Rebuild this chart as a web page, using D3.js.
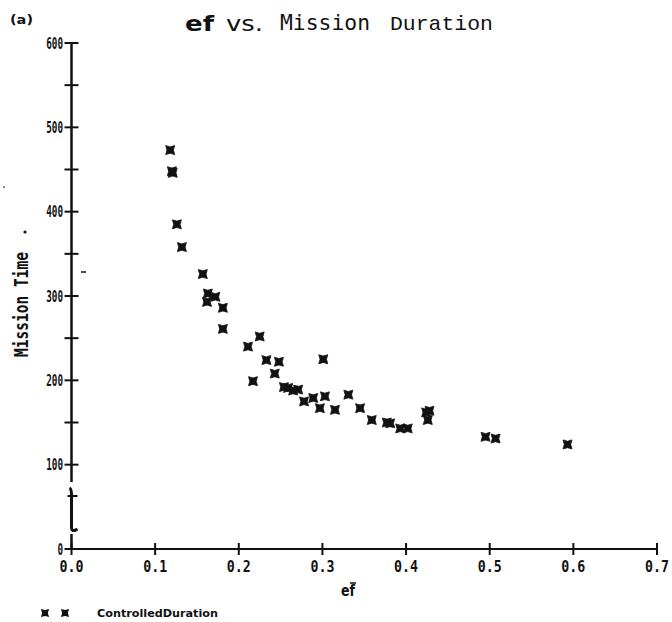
<!DOCTYPE html>
<html><head><meta charset="utf-8">
<script src="https://cdn.jsdelivr.net/npm/d3@7"></script>
<style>
html,body{margin:0;padding:0;background:#fff;}
svg{display:block;}
</style></head>
<body>
<svg id="chart" width="672" height="622"></svg>
<script>
// ---- data ----
const efValues = [0.118,0.120,0.121,0.126,0.132,0.157,0.163,0.172,0.162,0.181,0.181,0.225,0.211,0.233,0.248,0.301,0.217,0.243,0.254,0.259,0.271,0.265,0.278,0.289,0.303,0.297,0.315,0.331,0.345,0.359,0.377,0.381,0.393,0.402,0.424,0.428,0.426,0.495,0.507,0.593];
const missionTimes = [473,448,446,385,358,326,303,299,293,286,261,252,240,224,222,225,199,208,192,191,189,188,175,179,181,167,165,183,167,153,150,149,143,143,162,164,153,133,131,124];
const xTicks = [0,0.1,0.2,0.3,0.4,0.5,0.6,0.7];
const xTickLabels = ["0.0","0.1","0.2","0.3","0.4","0.5","0.6","0.7"];
const yTicks = [0,100,200,300,400,500,600];
const yTickLabels = ["0","100","200","300","400","500","600"];
const yMinorTicks = [150,250,350,450,550];
const titleText = "ef vs. Mission Duration";
const xLabel = "ef";
const yLabel = "Mission Time";
const legendLabel = "ControlledDuration";

const svg = d3.select("#chart");
const x = d3.scaleLinear().domain([0,0.7]).range([71.5,657]);
const y = d3.scaleLinear().domain([0,600]).range([549,43]);

const ink = "#111";

// ---- title ----
svg.append("text").attr("x",10).attr("y",24).attr("font-family","DejaVu Sans").attr("font-weight","bold")
  .attr("font-size",13).attr("fill",ink).attr("textLength",23).attr("lengthAdjust","spacingAndGlyphs").text("(a)");
const tparts = titleText.split(" ");
svg.append("text").attr("x",185).attr("y",31).attr("font-family","DejaVu Sans").attr("font-weight","bold")
  .attr("font-size",21).attr("fill",ink).attr("textLength",29).attr("lengthAdjust","spacingAndGlyphs").text(tparts[0]);
svg.append("text").attr("x",226).attr("y",31).attr("font-family","DejaVu Sans")
  .attr("font-size",21).attr("fill",ink).attr("textLength",37).attr("lengthAdjust","spacingAndGlyphs").text(tparts[1]);
svg.append("text").attr("x",280).attr("y",30).attr("font-family","DejaVu Sans Mono")
  .attr("font-size",21).attr("fill",ink).attr("textLength",90).attr("lengthAdjust","spacingAndGlyphs").text(tparts[2]);
svg.append("text").attr("x",390).attr("y",30).attr("font-family","Liberation Mono")
  .attr("font-size",21).attr("fill",ink).attr("textLength",103).attr("lengthAdjust","spacingAndGlyphs").text(tparts[3]);

// ---- y axis (with break between 0 and 100) ----
const ax = x(0);
svg.append("line").attr("x1",ax).attr("x2",ax).attr("y1",y(600)).attr("y2",482)
  .attr("stroke",ink).attr("stroke-width",2.5);
svg.append("line").attr("x1",ax).attr("x2",ax).attr("y1",534).attr("y2",y(0))
  .attr("stroke",ink).attr("stroke-width",2.5);
// break glyph
svg.append("path").attr("d",`M${ax-2},488 Q${ax},489 ${ax},495 L${ax},527 Q${ax},533 ${ax+6},529`)
  .attr("fill","none").attr("stroke",ink).attr("stroke-width",3);
svg.append("line").attr("x1",ax-4).attr("x2",ax+6).attr("y1",496).attr("y2",496)
  .attr("stroke",ink).attr("stroke-width",2);

yTicks.concat(yMinorTicks).forEach(v=>{
  svg.append("line").attr("x1",ax-7).attr("x2",ax+7).attr("y1",y(v)).attr("y2",y(v))
    .attr("stroke",ink).attr("stroke-width",2);
});
yTicks.forEach((v,i)=>{
  const lbl = yTickLabels[i];
  svg.append("text").attr("x",63).attr("y",y(v)+5.5).attr("text-anchor","end")
    .attr("font-family","DejaVu Sans Mono").attr("font-weight","bold").attr("font-size",15)
    .attr("fill",ink).attr("textLength",5.6*lbl.length).attr("lengthAdjust","spacingAndGlyphs").text(lbl);
});

// ---- x axis ----
svg.append("line").attr("x1",x(0)).attr("x2",x(0.7)).attr("y1",y(0)).attr("y2",y(0))
  .attr("stroke",ink).attr("stroke-width",2);
xTicks.forEach((v,i)=>{
  svg.append("line").attr("x1",x(v)).attr("x2",x(v)).attr("y1",y(0)-6).attr("y2",y(0)+6)
    .attr("stroke",ink).attr("stroke-width",2);
  svg.append("text").attr("x",x(v)).attr("y",572).attr("text-anchor","middle")
    .attr("font-family","DejaVu Sans Mono").attr("font-weight","bold").attr("font-size",15)
    .attr("fill",ink).attr("textLength",24).attr("lengthAdjust","spacingAndGlyphs").text(xTickLabels[i]);
});

// ---- axis labels ----
svg.append("text").attr("x",348).attr("y",596).attr("text-anchor","middle")
  .attr("font-family","DejaVu Sans").attr("font-weight","bold").attr("font-size",15)
  .attr("fill",ink).attr("textLength",14).attr("lengthAdjust","spacingAndGlyphs").text(xLabel);
svg.append("line").attr("x1",350).attr("x2",356).attr("y1",583).attr("y2",583).attr("stroke",ink).attr("stroke-width",1.5);

svg.append("text").attr("transform","translate(28,357) rotate(-90)")
  .attr("font-family","DejaVu Sans Mono").attr("font-weight","bold").attr("font-size",20)
  .attr("fill",ink).attr("textLength",105).attr("lengthAdjust","spacingAndGlyphs").text(yLabel);
svg.append("circle").attr("cx",25).attr("cy",232).attr("r",1.6).attr("fill",ink);
svg.append("circle").attr("cx",4).attr("cy",187).attr("r",0.9).attr("fill","#555");
svg.append("line").attr("x1",81).attr("x2",86).attr("y1",272).attr("y2",272).attr("stroke",ink).attr("stroke-width",1.5);

// ---- markers ----
const s = 4.5, n = 3.2;
const markerPath = `M${-s},${-s} L0,${-n} L${s},${-s} L${n},0 L${s},${s} L0,${n} L${-s},${s} L${-n},0 Z`;
svg.append("g").selectAll("path").data(efValues.map((v,i)=>[v,missionTimes[i]])).join("path")
  .attr("d",markerPath).attr("transform",d=>`translate(${x(d[0])},${y(d[1])})`)
  .attr("fill",ink).attr("stroke",ink).attr("stroke-width",0.8);

// ---- legend ----
[45,65].forEach(px=>{
  svg.append("path").attr("d",markerPath).attr("transform",`translate(${px},613) scale(0.9)`).attr("fill",ink);
});
svg.append("text").attr("x",97).attr("y",617).attr("font-family","DejaVu Sans").attr("font-weight","bold")
  .attr("font-size",10).attr("fill",ink).attr("textLength",121).attr("lengthAdjust","spacingAndGlyphs").text(legendLabel);
</script>
</body></html>
